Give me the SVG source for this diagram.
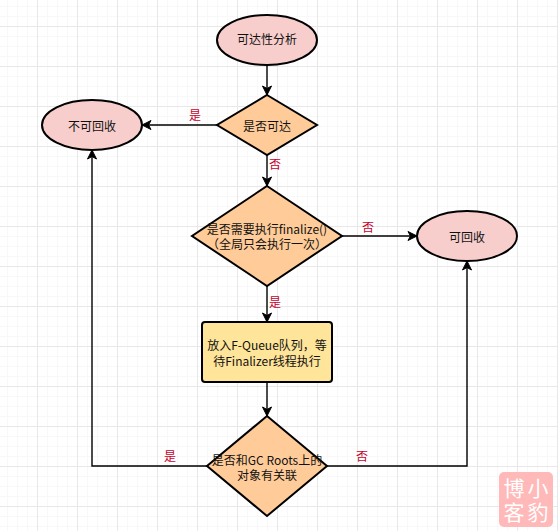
<svg xmlns="http://www.w3.org/2000/svg" width="558" height="531" viewBox="0 0 558 531">
<style>
text{font-family:"Noto Sans CJK SC","Liberation Sans",sans-serif;font-size:12px;fill:#111;text-anchor:middle}
.lab{fill:#c4002a}
.e{fill:#f8cecc;stroke:#000;stroke-width:2}
.d{fill:#ffcc99;stroke:#000;stroke-width:2}
.c{fill:none;stroke:#000;stroke-width:1.4;marker-end:url(#a)}
.s{fill:#fff;font-size:21px}
</style>
<defs>
<marker id="a" markerUnits="userSpaceOnUse" markerWidth="12" markerHeight="12" refX="10" refY="6" orient="auto"><path d="M1 1.500L10 6L1 10.500L3.500 6Z" fill="#000" stroke="#000"/></marker>
<pattern id="g" width="40" height="40" patternUnits="userSpaceOnUse" x="37" y="26"><path d="M10.500 0V40M20.500 0V40M30.500 0V40M0 10.500H40M0 20.500H40M0 30.500H40" fill="none" stroke="#f8f8f8" stroke-width="1"/><path d="M0.500 0V40M0 0.500H40" fill="none" stroke="#e8e8e8" stroke-width="1"/></pattern>
</defs>
<rect width="558" height="531" fill="#fff"/>
<rect width="558" height="531" fill="url(#g)"/>
<g id="connectors">
<path class="c" d="M267 65V95"/>
<path class="c" d="M217 125H142"/>
<path class="c" d="M267 155V186"/>
<path class="c" d="M342 236H417"/>
<path class="c" d="M267 286V322"/>
<path class="c" d="M267 382V416"/>
<path class="c" d="M207 466H92V150"/>
<path class="c" d="M327 466H467V261"/>
</g>
<g id="n1"><ellipse class="e" cx="267" cy="40" rx="50" ry="25"/><text x="267" y="44">可达性分析</text></g>
<g id="n2"><path class="d" d="M267 95L317 125L267 155L217 125Z"/><text x="267" y="131">是否可达</text></g>
<g id="n3"><ellipse class="e" cx="92" cy="125" rx="50" ry="25"/><text x="92" y="131">不可回收</text></g>
<g id="n4"><path class="d" d="M267 186L342 236L267 286L192 236Z"/><text x="267" y="234">是否需要执行finalize()<tspan x="267" y="249">（全局只会执行一次）</tspan></text></g>
<g id="n5"><ellipse class="e" cx="467" cy="236" rx="50" ry="25"/><text x="467" y="242">可回收</text></g>
<g id="n6"><rect x="202" y="322" width="130" height="60" rx="3" fill="#ffe599" stroke="#000" stroke-width="2"/><text x="267" y="350">放入F-Queue队列，等<tspan x="267" y="366">待Finalizer线程执行</tspan></text></g>
<g id="n7"><path class="d" d="M267 416L327 466L267 516L207 466Z"/><text x="267" y="465">是否和GC Roots上的<tspan x="267" y="480">对象有关联</tspan></text></g>
<g id="labels">
<text class="lab" x="195" y="120">是</text>
<text class="lab" x="275" y="169">否</text>
<text class="lab" x="368" y="232">否</text>
<text class="lab" x="275" y="307">是</text>
<text class="lab" x="170" y="461">是</text>
<text class="lab" x="362" y="461">否</text>
</g>
<g id="seal"><rect x="499" y="472" width="54" height="55" rx="5" fill="#ffb9b9"/>
<text class="s" x="514" y="496">博<tspan x="514" y="520">客</tspan><tspan x="538" y="496">小</tspan><tspan x="538" y="520">豹</tspan></text></g>
</svg>
